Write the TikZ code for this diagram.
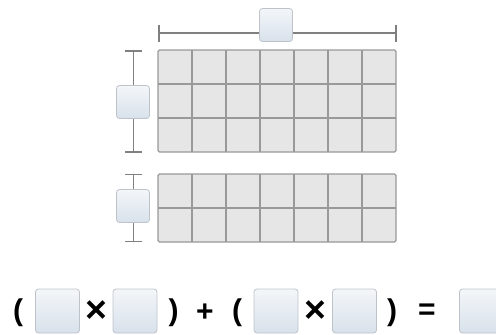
\documentclass[tikz,border=0pt]{standalone}
\usepackage{fontspec}
\setmainfont{Liberation Sans}
\definecolor{boxtop}{HTML}{F3F6F9}
\definecolor{boxbot}{HTML}{D8E1EB}
\definecolor{boxedge}{HTML}{BEC3C9}
\definecolor{cellfill}{HTML}{E6E6E6}
\begin{document}
\begin{tikzpicture}[x=1pt,y=-1pt,
  ansbox/.style={draw=boxedge, line width=0.8pt, rounded corners=3pt,
    top color=boxtop, bottom color=boxbot,
    minimum width=33pt, minimum height=33pt, inner sep=0pt},
  bigbox/.style={ansbox, minimum width=44pt, minimum height=44pt},
  dimline/.style={draw=black!50, line width=1.6pt},
  gridline/.style={draw=black!40, line width=1.3pt},
  sym/.style={font=\bfseries\fontsize{30}{30}\selectfont, inner sep=0pt, anchor=center}
]
\useasboundingbox (0,0) rectangle (496,335);
% top grid
\filldraw[gridline, fill=cellfill, rounded corners=1.5pt] (158,50) rectangle (396,152);
\foreach \i in {1,...,6} \draw[gridline] (158+34*\i,50) -- (158+34*\i,152);
\foreach \j in {1,2} \draw[gridline] (158,50+34*\j) -- (396,50+34*\j);
% bottom grid
\filldraw[gridline, fill=cellfill, rounded corners=1.5pt] (158,174) rectangle (396,242);
\foreach \i in {1,...,6} \draw[gridline] (158+34*\i,174) -- (158+34*\i,242);
\draw[gridline] (158,208) -- (396,208);
% top dimension
\coordinate (tl) at (159,33);
\coordinate (tr) at (396,33);
\draw[dimline] (tl) -- (tr);
\draw[dimline] ([yshift=8.5pt]tl) -- ([yshift=-8.5pt]tl);
\draw[dimline] ([yshift=8.5pt]tr) -- ([yshift=-8.5pt]tr);
\node[ansbox] (wbox) at (276,25) {};
% left dimension top grid
\coordinate (lt) at (133.5,51);
\coordinate (lb) at (133.5,152);
\draw[dimline] (lt) -- (lb);
\draw[dimline] ([xshift=-8.5pt]lt) -- ([xshift=8.5pt]lt);
\draw[dimline] ([xshift=-8.5pt]lb) -- ([xshift=8.5pt]lb);
\node[ansbox] (hbox1) at (133,102) {};
% left dimension bottom grid
\coordinate (mt) at (133.5,174.5);
\coordinate (mb) at (133.5,241.5);
\draw[dimline] (mt) -- (mb);
\draw[dimline] ([xshift=-8.5pt]mt) -- ([xshift=8.5pt]mt);
\draw[dimline] ([xshift=-8.5pt]mb) -- ([xshift=8.5pt]mb);
\node[ansbox] (hbox2) at (133,206) {};
% equation
\node[sym] (p1) at (18,313) {(};
\node[bigbox] (e1) at (57.5,311) {};
\node[sym, scale=1.25] (x1) at (96,312) {×};
\node[bigbox] (e2) at (135,311) {};
\node[sym] (p2) at (173.5,313) {)};
\node[sym] (plus) at (205,313) {+};
\node[sym] (p3) at (237,313) {(};
\node[bigbox] (e3) at (276,311) {};
\node[sym, scale=1.25] (x2) at (315.5,312) {×};
\node[bigbox] (e4) at (354.5,311) {};
\node[sym] (p4) at (392,313) {)};
\node[sym] (eq) at (427,312) {=};
\node[bigbox] (e5) at (481.5,311) {};
\end{tikzpicture}
\end{document}
